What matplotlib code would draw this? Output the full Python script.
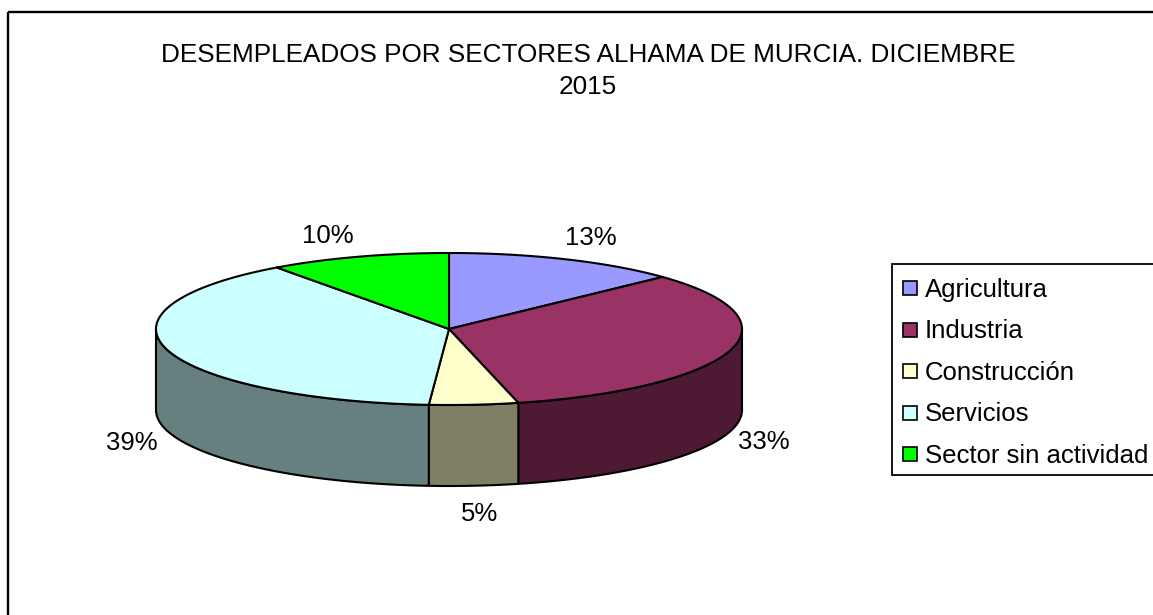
import numpy as np
from matplotlib import pyplot as plt
from matplotlib.patches import Polygon, Rectangle

title = 'DESEMPLEADOS POR SECTORES ALHAMA DE MURCIA. DICIEMBRE\n2015'
sectors = ['Agricultura', 'Industria', 'Construcción', 'Servicios', 'Sector sin actividad']
shares = [13, 33.2, 4.9, 38.9, 10]
top_colors = ['#9999FF', '#993366', '#FFFFCC', '#CCFFFF', '#00FF00']
side_colors = ['#4D4D80', '#4D1933', '#7F7F66', '#667F7F', '#008000']
label_pos = [(591, 238), (764, 442), (480, 514), (132, 443), (328, 236)]

plt.rcParams['font.family'] = ['Liberation Sans', 'DejaVu Sans']

# Axes in pixel units, y going down like the picture
fig = plt.figure(figsize=(11.53, 6.15), dpi=100)
ax = fig.add_axes([0, 0, 1, 1])
ax.set_xlim(0, 1153)
ax.set_ylim(615, 0)
ax.axis('off')

cx, cy, rx, ry, depth = 449, 329, 293, 76, 81


def rim(a0, a1):
    # points on the ellipse, angles clockwise from the top
    t = np.radians(np.linspace(a0, a1, 200))
    return np.column_stack([cx + rx * np.sin(t), cy - ry * np.cos(t)])


# Outer frame, open on the right and bottom
ax.plot([8, 8], [615, 12], c='black', lw=1.7, solid_capstyle='butt')
ax.plot([8, 1153], [12, 12], c='black', lw=1.7, solid_capstyle='butt')

edges = np.cumsum([0] + shares) * 3.6

# Sides first, only the front half (90 to 270 degrees) can be seen
for i in range(len(shares)):
    a0, a1 = max(edges[i], 90), min(edges[i + 1], 270)
    if a0 < a1:
        upper = rim(a0, a1)
        lower = upper[::-1] + [0, depth]
        ax.add_patch(Polygon(np.vstack([upper, lower]), closed=True,
                             fc=side_colors[i], ec='black', lw=1.5, joinstyle='round'))

# Top of the pie
for i in range(len(shares)):
    pts = np.vstack([[cx, cy], rim(edges[i], edges[i + 1])])
    ax.add_patch(Polygon(pts, closed=True, fc=top_colors[i], ec='black', lw=1.5,
                         joinstyle='round'))

# Percent labels
for share, (x, y) in zip(shares, label_pos):
    ax.text(x, y, f'{share:.0f}%', fontsize=18.5, ha='center', va='center', color='black')

ax.text(588, 71, title, fontsize=18.8, ha='center', va='center', linespacing=1.4, color='black')

# Legend box runs off the right edge
ax.plot([1153, 892, 892, 1153], [264, 264, 475, 475], c='black', lw=1.3, solid_joinstyle='miter')
for i, name in enumerate(sectors):
    y = 288 + i * 41.6
    ax.add_patch(Rectangle((903, y - 7), 14, 14, fc=top_colors[i], ec='black', lw=1.2))
    ax.text(925, y + 1.5, name, fontsize=18.5, ha='left', va='center', color='black')

fig.savefig('out.png', dpi=100)
